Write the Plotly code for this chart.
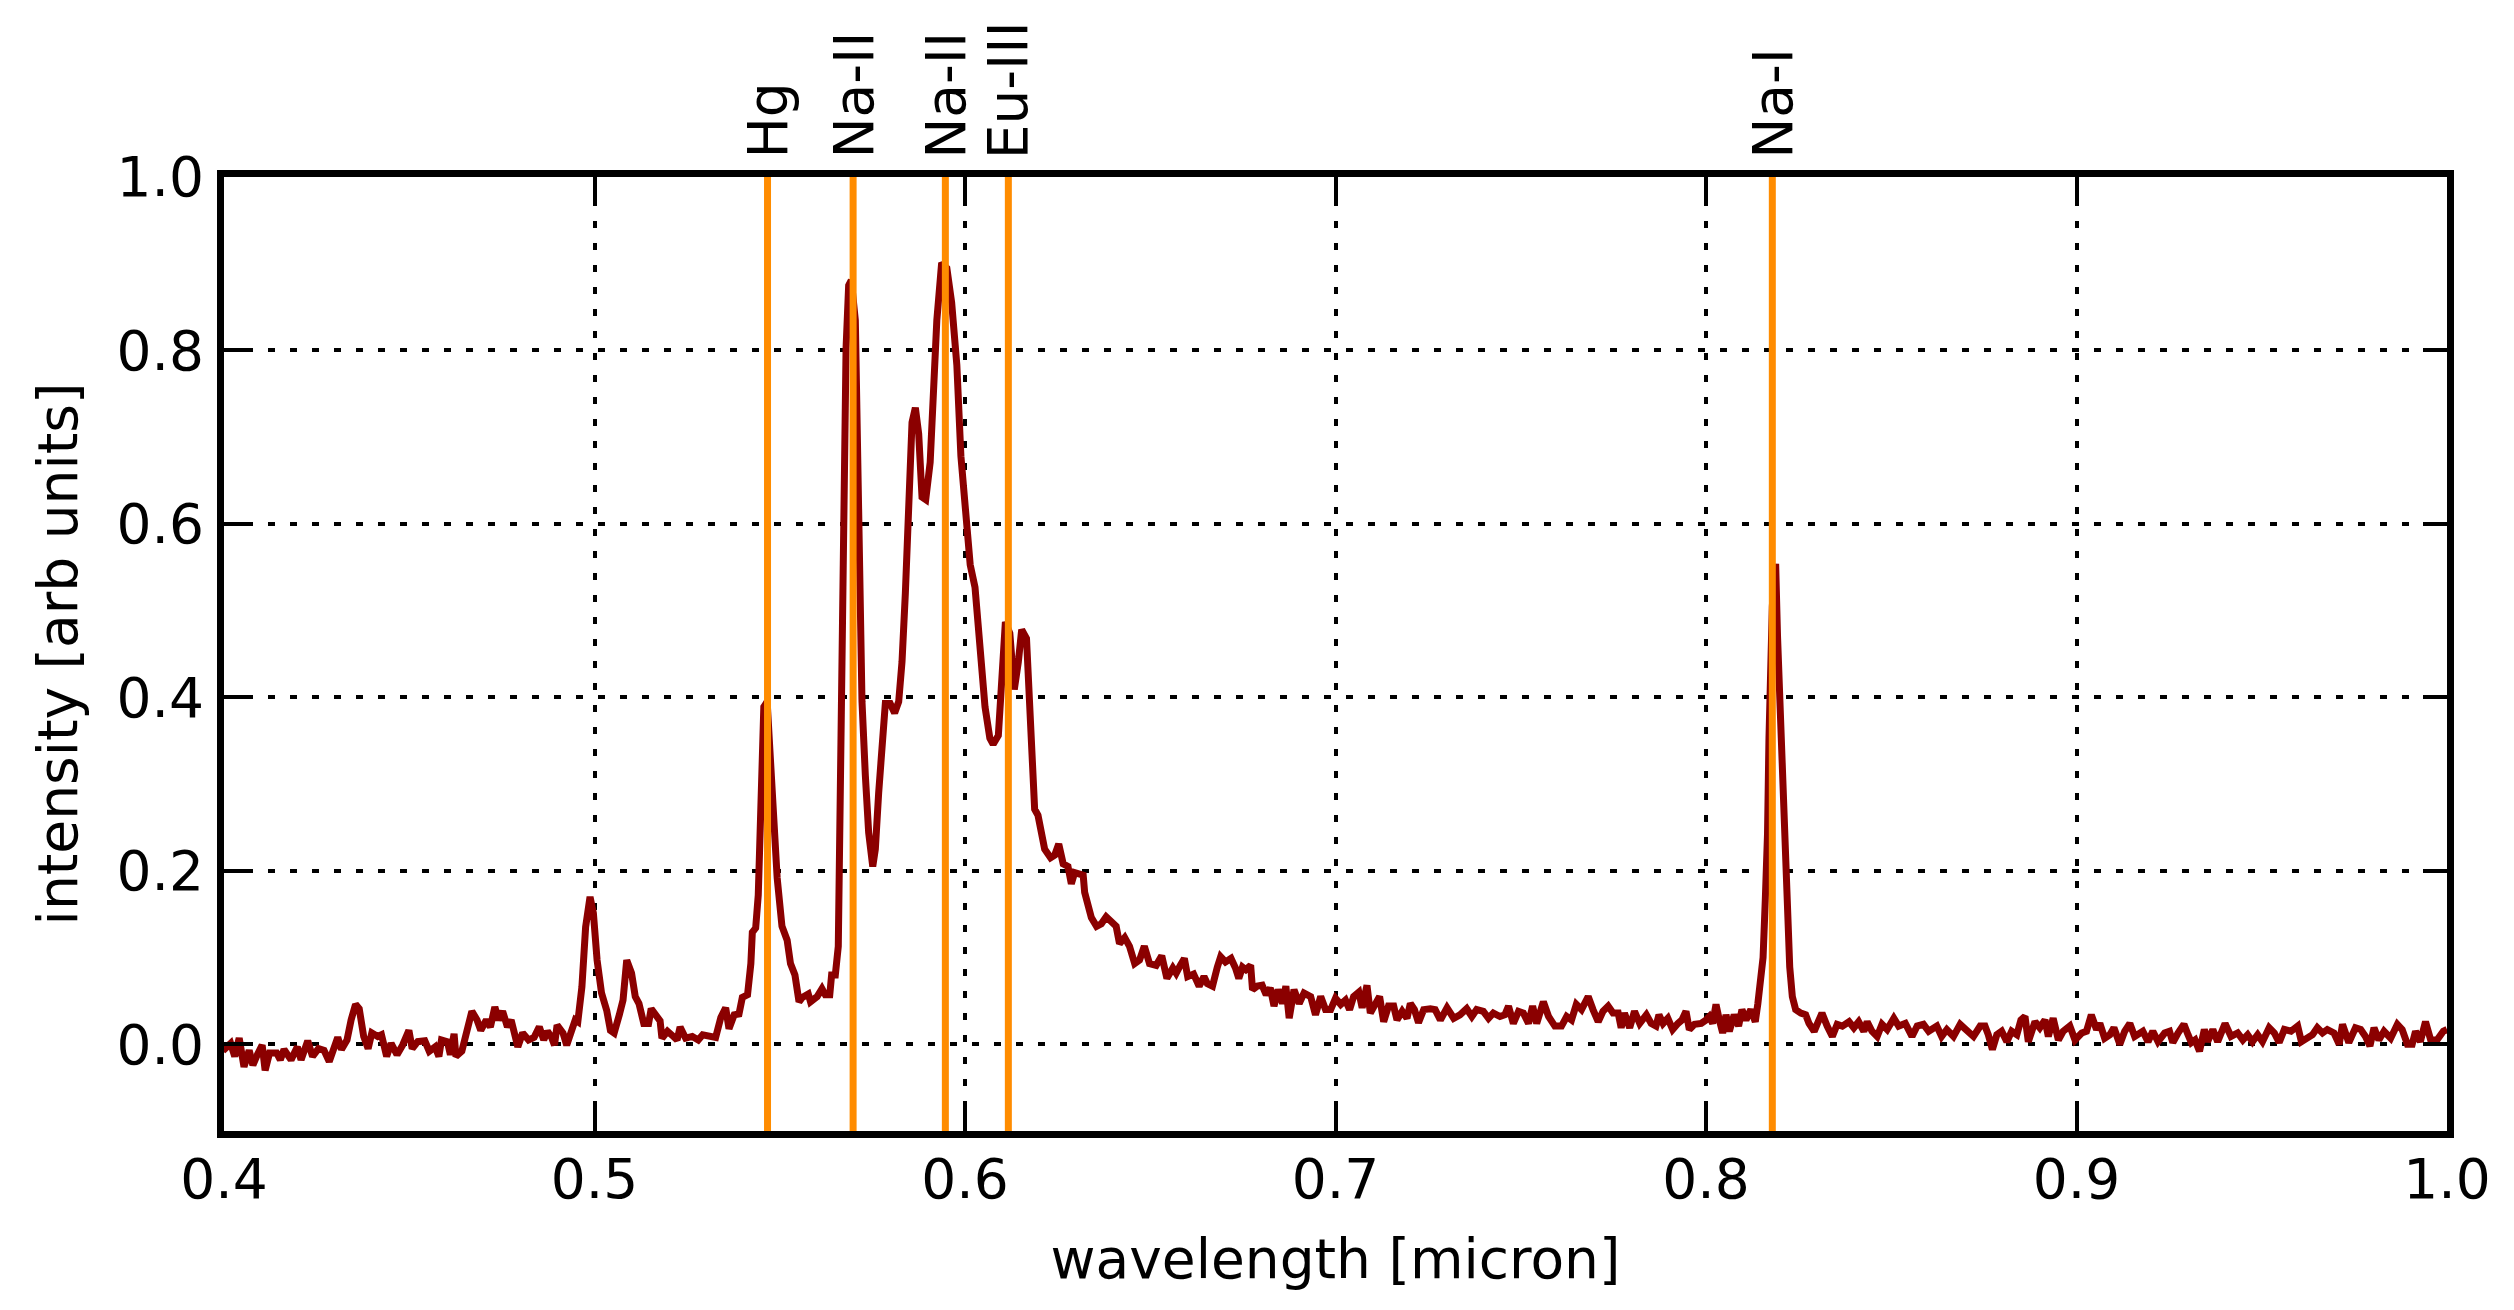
import plotly.graph_objects as go

# spectrum (wavelength in micron, intensity in arb units)
wavelength = [
    0.4000, 0.4003, 0.4018, 0.4029, 0.4041, 0.4054, 0.4068, 0.4078, 0.4090, 0.4103,
    0.4111, 0.4123, 0.4142, 0.4152, 0.4162, 0.4181, 0.4198, 0.4208, 0.4226, 0.4239,
    0.4255, 0.4270, 0.4284, 0.4296, 0.4307, 0.4317, 0.4332, 0.4343, 0.4355, 0.4365,
    0.4377, 0.4389, 0.4399, 0.4415, 0.4425, 0.4439, 0.4451, 0.4467, 0.4482, 0.4499,
    0.4508, 0.4523, 0.4542, 0.4554, 0.4570, 0.4580, 0.4587, 0.4603, 0.4611, 0.4621,
    0.4626, 0.4642, 0.4657, 0.4669, 0.4683, 0.4693, 0.4708, 0.4719, 0.4731, 0.4741,
    0.4752, 0.4765, 0.4775, 0.4786, 0.4793, 0.4806, 0.4822, 0.4837, 0.4851, 0.4863,
    0.4873, 0.4884, 0.4892, 0.4899, 0.4915, 0.4925, 0.4935, 0.4948, 0.4955, 0.4966,
    0.4976, 0.4988, 0.4997, 0.5007, 0.5019, 0.5033, 0.5043, 0.5053, 0.5067, 0.5077,
    0.5087, 0.5100, 0.5110, 0.5120, 0.5133, 0.5146, 0.5153, 0.5167, 0.5177, 0.5182,
    0.5197, 0.5213, 0.5223, 0.5231, 0.5246, 0.5264, 0.5280,
    0.5292, 0.5327, 0.5341, 0.5354, 0.5363, 0.5377, 0.5390, 0.5399, 0.5413, 0.5422,
    0.5426, 0.5435, 0.5442, 0.5448, 0.5457, 0.5466, 0.5475, 0.5484, 0.5493, 0.5506,
    0.5520, 0.5529, 0.5541, 0.5552, 0.5561, 0.5577, 0.5583, 0.5601, 0.5614, 0.5623,
    0.5635, 0.5640, 0.5650, 0.5658, 0.5661, 0.5667, 0.5673, 0.5679, 0.5686, 0.5693,
    0.5704, 0.5713, 0.5722, 0.5731, 0.5740, 0.5751, 0.5758, 0.5767, 0.5776, 0.5785,
    0.5798, 0.5810, 0.5821, 0.5830, 0.5839, 0.5848, 0.5857, 0.5866, 0.5875, 0.5884,
    0.5894, 0.5906, 0.5915, 0.5924, 0.5937, 0.5951, 0.5964, 0.5978, 0.5989, 0.6000,
    0.6014, 0.6027, 0.6041, 0.6054, 0.6067, 0.6076, 0.6090, 0.6099, 0.6109, 0.6121,
    0.6133, 0.6144, 0.6153, 0.6166, 0.6175, 0.6179, 0.6188, 0.6197, 0.6206, 0.6215,
    0.6231, 0.6242, 0.6253, 0.6265, 0.6278, 0.6287, 0.6296, 0.6319, 0.6323, 0.6332,
    0.6341, 0.6355, 0.6368, 0.6381, 0.6395, 0.6408, 0.6417, 0.6431, 0.6444, 0.6458,
    0.6471, 0.6484,
    0.6498, 0.6516, 0.6531, 0.6545, 0.6561, 0.6570, 0.6581, 0.6592, 0.6601, 0.6617,
    0.6632, 0.6645, 0.6654, 0.6668, 0.6681, 0.6690, 0.6703, 0.6718, 0.6730, 0.6739,
    0.6749, 0.6758, 0.6771, 0.6776, 0.6789, 0.6802, 0.6813, 0.6824, 0.6834, 0.6845,
    0.6857, 0.6866, 0.6875, 0.6888, 0.6902, 0.6915, 0.6933, 0.6946, 0.6960, 0.6973,
    0.6987, 0.7000, 0.7014, 0.7027, 0.7038, 0.7049, 0.7063, 0.7072, 0.7085, 0.7094,
    0.7107, 0.7119, 0.7130, 0.7143, 0.7157, 0.7166, 0.7180, 0.7193, 0.7202, 0.7213,
    0.7224, 0.7238, 0.7256, 0.7269, 0.7283, 0.7301, 0.7319, 0.7336, 0.7354, 0.7368,
    0.7381, 0.7399, 0.7413, 0.7426, 0.7444, 0.7457, 0.7467, 0.7480, 0.7494, 0.7507,
    0.7521, 0.7532, 0.7543, 0.7561, 0.7575, 0.7592, 0.7610, 0.7624, 0.7637, 0.7650,
    0.7664, 0.7682, 0.7695, 0.7709, 0.7722, 0.7736, 0.7749, 0.7763, 0.7771, 0.7780,
    0.7794, 0.7807, 0.7821, 0.7839, 0.7852, 0.7865,
    0.7873, 0.7884, 0.7897, 0.7910, 0.7924, 0.7935, 0.7946, 0.7955, 0.7969, 0.7987,
    0.8000, 0.8009, 0.8018, 0.8027, 0.8036, 0.8045, 0.8054, 0.8063, 0.8076, 0.8088,
    0.8097, 0.8108, 0.8121, 0.8133,
    0.8140, 0.8148, 0.8154, 0.8160, 0.8166, 0.8170, 0.8175, 0.8179, 0.8184, 0.8188,
    0.8193, 0.8199, 0.8206, 0.8213, 0.8217, 0.8222, 0.8226, 0.8233, 0.8242,
    0.8256, 0.8269, 0.8278, 0.8292, 0.8301, 0.8313, 0.8327, 0.8341, 0.8354, 0.8368,
    0.8386, 0.8399, 0.8412, 0.8426, 0.8435, 0.8448, 0.8462, 0.8475, 0.8489, 0.8507,
    0.8520, 0.8538, 0.8556, 0.8570, 0.8587, 0.8601, 0.8623, 0.8636, 0.8650, 0.8668,
    0.8686, 0.8704, 0.8722, 0.8740, 0.8753, 0.8762, 0.8773, 0.8785, 0.8798, 0.8812,
    0.8825, 0.8839, 0.8850, 0.8861, 0.8870, 0.8888, 0.8901, 0.8915, 0.8924, 0.8937,
    0.8951, 0.8964, 0.8982, 0.8996, 0.9014, 0.9027, 0.9040, 0.9054, 0.9063, 0.9076,
    0.9090, 0.9101, 0.9117, 0.9130, 0.9144, 0.9157,
    0.9179, 0.9193, 0.9206, 0.9220, 0.9238, 0.9251, 0.9260, 0.9274, 0.9290, 0.9301,
    0.9310, 0.9320, 0.9332, 0.9345, 0.9354, 0.9368, 0.9381, 0.9401, 0.9417, 0.9435,
    0.9449, 0.9462, 0.9475, 0.9489, 0.9502, 0.9520, 0.9534, 0.9547, 0.9561, 0.9579,
    0.9597, 0.9607, 0.9623, 0.9637, 0.9650, 0.9664, 0.9677, 0.9695, 0.9709, 0.9718,
    0.9735, 0.9753, 0.9767, 0.9780, 0.9792, 0.9803, 0.9816, 0.9830, 0.9848, 0.9866,
    0.9879, 0.9893, 0.9906, 0.9915, 0.9928, 0.9942, 0.9956, 0.9973, 0.9990, 1.0000,
]

intensity = [
    -0.004, -0.005, 0.001, -0.014, 0.007, -0.026, -0.007, -0.024, -0.012, -0.001,
    -0.030, -0.010, -0.010, -0.018, -0.006, -0.018, -0.003, -0.018, 0.004, -0.014,
    -0.005, -0.007, -0.020, -0.005, 0.008, -0.006, 0.005, 0.028, 0.046, 0.041,
    0.009, -0.005, 0.013, 0.009, 0.011, -0.014, 0.001, -0.012, -0.001, 0.016,
    -0.005, 0.003, 0.004, -0.008, -0.003, -0.014, 0.005, 0.003, -0.012, 0.012,
    -0.014, -0.008, 0.020, 0.038, 0.028, 0.016, 0.028, 0.020, 0.043, 0.028,
    0.038, 0.020, 0.028, 0.013, -0.003, 0.013, 0.005, 0.008, 0.020, 0.005,
    0.015, 0.008, -0.001, 0.022, 0.013, -0.001, 0.015, 0.028, 0.026, 0.066,
    0.135, 0.170, 0.151, 0.097, 0.059, 0.039, 0.016, 0.013, 0.034, 0.051,
    0.097, 0.082, 0.055, 0.047, 0.024, 0.024, 0.041, 0.032, 0.027, 0.007,
    0.015, 0.009, 0.005, 0.020, 0.007, 0.009, 0.005,
    0.011, 0.008, 0.031, 0.042, 0.018, 0.034, 0.035, 0.054, 0.057, 0.093,
    0.129, 0.134, 0.172, 0.277, 0.389, 0.395, 0.323, 0.238, 0.192, 0.136,
    0.120, 0.093, 0.080, 0.049, 0.054, 0.058, 0.049, 0.055, 0.064, 0.057,
    0.057, 0.080, 0.080, 0.113, 0.211, 0.395, 0.599, 0.803, 0.875, 0.881,
    0.835, 0.573, 0.395, 0.310, 0.244, 0.205, 0.225, 0.290, 0.356, 0.393,
    0.393, 0.382, 0.395, 0.441, 0.520, 0.618, 0.717, 0.734, 0.704, 0.631,
    0.628, 0.671, 0.757, 0.835, 0.901, 0.895, 0.855, 0.783, 0.678, 0.625,
    0.553, 0.527, 0.455, 0.389, 0.353, 0.346, 0.356, 0.422, 0.487, 0.474,
    0.409, 0.441, 0.478, 0.468, 0.376, 0.317, 0.271, 0.264, 0.244, 0.225,
    0.215, 0.218, 0.231, 0.208, 0.205, 0.185, 0.198, 0.195, 0.175, 0.159,
    0.146, 0.136, 0.139, 0.147, 0.141, 0.136, 0.116, 0.123, 0.113, 0.093,
    0.097, 0.113,
    0.093, 0.091, 0.102, 0.076, 0.088, 0.082, 0.091, 0.099, 0.078, 0.081,
    0.067, 0.078, 0.070, 0.067, 0.089, 0.101, 0.095, 0.099, 0.088, 0.076,
    0.089, 0.086, 0.091, 0.063, 0.067, 0.068, 0.057, 0.065, 0.044, 0.063,
    0.047, 0.067, 0.030, 0.063, 0.047, 0.059, 0.055, 0.034, 0.055, 0.040,
    0.040, 0.053, 0.046, 0.051, 0.040, 0.055, 0.060, 0.042, 0.068, 0.036,
    0.046, 0.055, 0.026, 0.044, 0.044, 0.028, 0.038, 0.030, 0.047, 0.040,
    0.025, 0.040, 0.041, 0.040, 0.028, 0.042, 0.030, 0.034, 0.041, 0.032,
    0.040, 0.038, 0.030, 0.036, 0.032, 0.034, 0.044, 0.024, 0.038, 0.036,
    0.024, 0.044, 0.024, 0.049, 0.032, 0.021, 0.021, 0.032, 0.028, 0.046,
    0.040, 0.055, 0.040, 0.026, 0.038, 0.044, 0.036, 0.036, 0.019, 0.036,
    0.019, 0.038, 0.024, 0.034, 0.024, 0.021,
    0.034, 0.024, 0.030, 0.017, 0.024, 0.028, 0.038, 0.017, 0.023, 0.024,
    0.028, 0.032, 0.024, 0.046, 0.028, 0.013, 0.034, 0.015, 0.034, 0.021,
    0.040, 0.028, 0.040, 0.026,
    0.047, 0.075, 0.100, 0.166, 0.242, 0.353, 0.463, 0.505, 0.540, 0.554,
    0.471, 0.395, 0.318, 0.242, 0.166, 0.120, 0.089, 0.055, 0.040,
    0.036, 0.034, 0.024, 0.015, 0.024, 0.036, 0.021, 0.009, 0.023, 0.021,
    0.026, 0.019, 0.026, 0.015, 0.026, 0.015, 0.009, 0.023, 0.017, 0.030,
    0.021, 0.024, 0.009, 0.021, 0.023, 0.015, 0.021, 0.009, 0.017, 0.009,
    0.023, 0.017, 0.009, 0.021, 0.021, 0.011, -0.006, 0.011, 0.015, 0.003,
    0.015, 0.011, 0.028, 0.032, 0.003, 0.026, 0.019, 0.028, 0.009, 0.030,
    0.005, 0.015, 0.021, 0.005, 0.013, 0.015, 0.034, 0.017, 0.024, 0.007,
    0.011, 0.019, 0.000, 0.015, 0.024, 0.009,
    0.015, 0.003, 0.015, 0.003, 0.013, 0.015, 0.002, 0.013, 0.023, 0.011,
    0.002, 0.005, -0.008, 0.017, 0.003, 0.017, 0.003, 0.024, 0.009, 0.013,
    0.005, 0.011, 0.003, 0.011, 0.003, 0.019, 0.013, 0.002, 0.017, 0.015,
    0.021, 0.003, 0.007, 0.011, 0.019, 0.013, 0.017, 0.013, 0.000, 0.023,
    0.002, 0.019, 0.017, 0.009, -0.002, 0.019, 0.005, 0.015, 0.007, 0.023,
    0.017, 0.000, 0.000, 0.015, 0.003, 0.026, 0.005, 0.005, 0.015, 0.017,
]

# identified emission lines
line_pos = [0.5467, 0.5698, 0.5947, 0.6117, 0.8179]
line_names = ["Hg", "Na-II", "Na-II", "Eu-III", "Na-I"]

x_ticks = [0.4, 0.5, 0.6, 0.7, 0.8, 0.9, 1.0]
y_ticks = [0.0, 0.2, 0.4, 0.6, 0.8, 1.0]

FONT = "DejaVu Sans"

fig = go.Figure()
fig.add_trace(go.Scatter(
    x=wavelength, y=intensity, mode="lines",
    line=dict(color="#8b0000", width=7),
    showlegend=False,
))

for pos, name in zip(line_pos, line_names):
    fig.add_shape(
        type="line", xref="x", yref="paper",
        x0=pos, x1=pos, y0=0, y1=1,
        line=dict(color="#ff8c00", width=7), layer="above",
    )
    fig.add_annotation(
        x=pos, y=1, xref="x", yref="paper", text=name,
        textangle=-90, showarrow=False,
        xanchor="center", yanchor="bottom", yshift=16,
        font=dict(family=FONT, size=55, color="black"),
    )

axis_style = dict(
    showline=True, linewidth=7, linecolor="black", mirror="ticks",
    ticks="inside", ticklen=24, tickwidth=4, tickcolor="black",
    showgrid=True, gridcolor="black", gridwidth=3.5, griddash="7px,15px",
    zeroline=False,
    tickfont=dict(family=FONT, size=55, color="black"),
)

fig.update_xaxes(
    range=[0.4, 1.0], tickvals=x_ticks,
    ticktext=["%.1f" % v for v in x_ticks],
    ticklabelstandoff=-6,
    title=dict(text="wavelength [micron]", standoff=32,
               font=dict(family=FONT, size=55, color="black")),
    **axis_style,
)
fig.update_yaxes(
    range=[-0.1, 1.0], tickvals=y_ticks,
    ticktext=["%.1f" % v for v in y_ticks],
    ticklabelstandoff=2,
    title=dict(text="intensity [arb units]", standoff=24,
               font=dict(family=FONT, size=55, color="black")),
    **axis_style,
)

# the page body keeps its default 8px margin, so the figure is 8px smaller
fig.update_layout(
    width=2506, height=1302,
    margin=dict(l=216, r=67, t=169, b=179),
    plot_bgcolor="white", paper_bgcolor="white",
    font=dict(family=FONT, size=55, color="black"),
)

fig.write_html("out.html")
